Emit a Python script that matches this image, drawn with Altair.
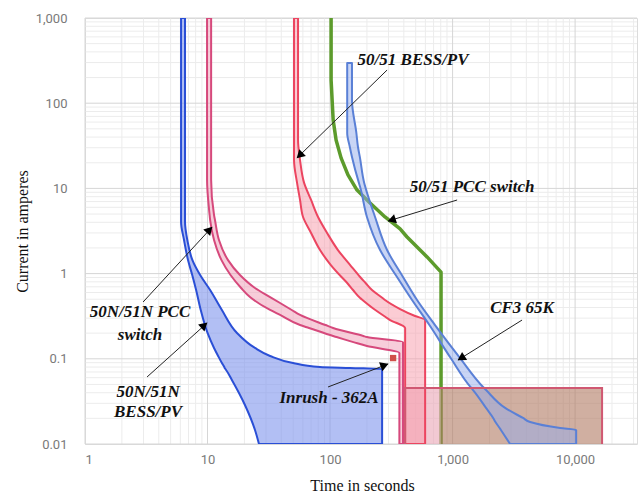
import altair as alt
import pandas as pd

# ---------------- data ----------------
# 50N/51N BESS/PV band (current values, left/lower and right/upper time borders)
bessn_y = [1000, 4.03, 2.48, 1.44, 0.963, 0.642, 0.374, 0.201, 0.134, 0.108, 0.0893,
           0.0802, 0.078, 0.0759, 0.0564, 0.0287, 0.0146, 0.01]
bessn_lo = [6.08, 6.08, 6.43, 6.93, 7.50, 8.07, 8.80, 10.0, 11.3, 12.2, 13.1,
            13.7, 13.8, 14.0, 15.8, 20.2, 24.4, 26.3]
bessn_hi = [6.55, 6.55, 6.84, 7.53, 8.7, 10.5, 13.1, 17.4, 24.4, 32.4, 49.9,
            82.8, 146, 266, 266, 266, 266, 266]

# 50N/51N PCC switch band
pccn_y = [1000, 12.6, 4.87, 4.26, 2.48, 1.44, 0.963, 0.678, 0.531, 0.374, 0.327,
          0.249, 0.230, 0.185, 0.180, 0.157, 0.141, 0.117, 0.01]
pccn_lo = [9.91, 9.91, 10.4, 10.5, 11.3, 13.0, 15.4, 18.8, 22.2, 32.4, 39.1,
           56.9, 67.4, 106, 113, 155, 200, 368, 368]
pccn_hi = [10.7, 10.7, 11.3, 11.5, 12.4, 14.7, 18.4, 24.4, 32.4, 48.7, 56.9,
           91.7, 106, 187, 200, 394, 394, 394, 394]

# 50/51 BESS/PV band
bess_y = [1000, 37.0, 21.5, 11.6, 7.31, 4.62, 3.0, 1.89, 1.26, 0.912, 0.776,
          0.642, 0.517, 0.490, 0.384, 0.318, 0.285, 0.230, 0.01]
bess_lo = [50.8, 50.8, 50.8, 53.8, 56.9, 60.2, 70.0, 82.8, 101.5, 124, 138,
           154, 176, 184, 228, 276, 309, 410, 410]
bess_hi = [54.8, 54.8, 56.9, 61.4, 70.0, 79.8, 94.6, 116, 146, 176, 195,
           220, 268, 281, 373, 494, 597, 597, 597]

# 50/51 PCC switch curve
pcc_t = [102, 102, 106, 112, 123, 140, 166, 212, 281, 373, 425, 513, 619, 805, 805]
pcc_i = [1000, 187, 63.5, 37.0, 22.8, 14.4, 9.57, 6.74, 4.62, 3.34, 2.69, 2.05, 1.57, 1.04, 0.01]

# CF3 65K fuse band
cf3_y = [296, 109, 44.7, 30.6, 23.4, 11.6, 10.4, 4.62, 1.89, 0.912, 0.490, 0.249,
         0.102, 0.0467, 0.0430, 0.0265, 0.0202, 0.0181, 0.0154, 0.0146, 0.01]
cf3_lo = [138, 138, 138, 145, 151, 172, 176, 200, 256, 352, 467, 647,
          965, 1398, 1469, 1874, 2143, 2239, 2420, 2480, 2946]
cf3_hi = [151, 151, 164, 169, 175, 190, 194, 233, 292, 394, 513, 719,
          1151, 1774, 1877, 2684, 3755, 4296, 7548, 10200, 10200]

# rectangle region (time edges, split at the PCC switch definite time, current edges)
rect_t = [410, 805, 16600]
rect_i = [0.01, 0.0454]

# inrush point
inrush_t = [327]
inrush_i = [0.102]

# annotations
label_text = ["50/51 BESS/PV", "50/51 PCC switch", "50N/51N PCC", "switch",
              "50N/51N", "BESS/PV", "Inrush - 362A", "CF3 65K"]
label_t = [476, 1443, 2.81, 2.81, 3.27, 3.27, 98.2, 3690]
label_i = [321, 10.4, 0.354, 0.190, 0.0408, 0.0238, 0.0347, 0.395]

arrow_t0 = [292, 1089, 2.98, 3.21, 96.3, 3690]
arrow_i0 = [245, 7.31, 0.464, 0.0612, 0.0467, 0.285]
arrow_t1 = [53.8, 298, 10.9, 9.91, 298, 1109]
arrow_i1 = [22.8, 4.14, 3.52, 0.263, 0.0869, 0.0968]
head_t = [57.5, 326, 10.2, 9.24, 272, 1200]
head_i = [25.0, 4.31, 3.19, 0.241, 0.0828, 0.104]
head_angle = [226, 252, 43, 48, 69, 238]

# axis ticks
x_major = [1, 10, 100, 1000, 10000]
y_major = [0.01, 0.1, 1, 10, 100, 1000]

# ---------------- chart ----------------
XS = alt.Scale(type="log", domain=[1, 32000], nice=False)
YS = alt.Scale(type="log", domain=[0.01, 1000], nice=False)

x_minor = [d * 10 ** e for e in range(0, 5) for d in range(2, 10) if d * 10 ** e <= 32000]
y_minor = [round(d * 10.0 ** e, 4) for e in range(-2, 3) for d in range(2, 10)]

common = dict(domain=False, ticks=False, grid=False, format=",",
              labelColor="#7a7a7a", labelFont="Roboto", labelFontSize=13,
              titleFont="Liberation Serif", titleFontSize=16, titleFontWeight="normal",
              titleColor="#111111")
AX = alt.Axis(values=x_major, title="Time in seconds", labelPadding=9,
              titleX=277, titleY=41, titleBaseline="middle", titleAlign="center", **common)
AY = alt.Axis(values=y_major, title="Current in amperes", labelPadding=18,
              titleX=-63, titleY=213, titleAngle=270, titleAlign="center",
              titleBaseline="middle", **common)


def X(f):
    return alt.X(f, type="quantitative", scale=XS, axis=AX)


def Y(f):
    return alt.Y(f, type="quantitative", scale=YS, axis=AY)


def vgrid(vals, color):
    return alt.Chart(pd.DataFrame({"v": vals})).mark_rule(color=color, strokeWidth=1).encode(x=X("v"))


def hgrid(vals, color):
    return alt.Chart(pd.DataFrame({"v": vals})).mark_rule(color=color, strokeWidth=1).encode(y=Y("v"))


def band(ys, lo, hi, fill, stroke, op=0.5, width=2):
    df = pd.DataFrame({"y": ys, "lo": lo, "hi": hi})
    return alt.Chart(df).mark_area(
        orient="horizontal", interpolate="monotone", fill=fill, fillOpacity=op,
        stroke=stroke, strokeWidth=width, strokeJoin="round", clip=True).encode(
        y=Y("y"), x=X("lo"), x2="hi")


green = alt.Chart(pd.DataFrame({"t": pcc_t, "c": pcc_i})).mark_area(
    orient="horizontal", interpolate="linear", fill="#5c9b2c", fillOpacity=0,
    stroke="#5c9b2c", strokeWidth=3.5, strokeJoin="round", clip=True).encode(
    y=Y("c"), x=X("t"), x2="t")

rect_left = alt.Chart(pd.DataFrame({"a": [rect_t[0]], "b": [rect_t[1]], "c": [rect_i[0]], "d": [rect_i[1]]})).mark_rect(
    color="#e9a5b6", opacity=0.6).encode(x=X("a"), x2="b", y=Y("c"), y2="d")
rect_right = alt.Chart(pd.DataFrame({"a": [rect_t[1]], "b": [rect_t[2]], "c": [rect_i[0]], "d": [rect_i[1]]})).mark_rect(
    color="#b07a62", opacity=0.6).encode(x=X("a"), x2="b", y=Y("c"), y2="d")
rect_line = alt.Chart(pd.DataFrame({
    "x": [rect_t[0], rect_t[0], rect_t[2], rect_t[2]],
    "y": [rect_i[0], rect_i[1], rect_i[1], rect_i[0]],
    "i": [0, 1, 2, 3]})).mark_line(color="#d05872", strokeWidth=2, clip=True).encode(
    x=X("x"), y=Y("y"), order="i:Q")

inrush = alt.Chart(pd.DataFrame({"t": inrush_t, "c": inrush_i})).mark_square(
    size=40, color="#d0504a", opacity=1).encode(x=X("t"), y=Y("c"))

arrows = alt.Chart(pd.DataFrame({"a": arrow_t0, "b": arrow_t1, "c": arrow_i0, "d": arrow_i1})).mark_rule(
    color="#222222", strokeWidth=1).encode(x=X("a"), x2="b", y=Y("c"), y2="d")
heads = alt.Chart(pd.DataFrame({"t": head_t, "c": head_i, "a": head_angle})).mark_point(
    shape="triangle", filled=True, color="#000000", size=90, opacity=1).encode(
    x=X("t"), y=Y("c"), angle=alt.Angle("a:Q", scale=None))

labels = alt.Chart(pd.DataFrame({"t": label_t, "c": label_i, "s": label_text})).mark_text(
    font="Liberation Serif", fontStyle="italic", fontWeight="bold", fontSize=17,
    color="#111111", align="center", baseline="middle").encode(
    x=X("t"), y=Y("c"), text="s:N")

chart = alt.layer(
    vgrid(x_minor, "#ececec"), hgrid(y_minor, "#ececec"),
    vgrid(x_major, "#d6d6d6"), hgrid(y_major, "#d6d6d6"),
    green,
    rect_left, rect_right,
    band(bessn_y, bessn_lo, bessn_hi, "#7f95ec", "#2a4fd6", op=0.6),
    band(pccn_y, pccn_lo, pccn_hi, "#ef9bb5", "#d6497c"),
    band(bess_y, bess_lo, bess_hi, "#f79aaa", "#ec4560"),
    band(cf3_y, cf3_lo, cf3_hi, "#93acec", "#5a80d6"),
    rect_line,
    inrush,
    arrows,
    heads,
    labels,
).properties(
    width=552, height=426,
    padding={"left": 85, "top": 18, "right": 7, "bottom": 49},
    autosize="none",
    background="white",
).configure_view(stroke="#dcdcdc")

chart.save("out.html", embed_options={"renderer": "svg", "actions": False})
